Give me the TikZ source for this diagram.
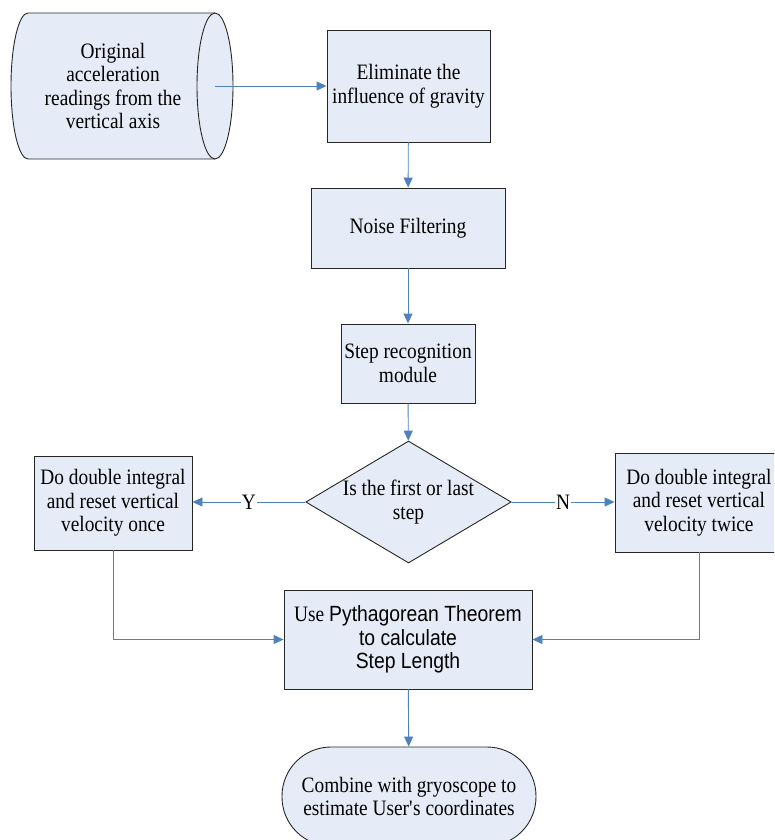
\documentclass[tikz,border=0pt]{standalone}
\usepackage{fontspec}
\setmainfont{Liberation Serif}[FakeStretch=0.88]
\setsansfont{Liberation Sans}[FakeStretch=0.88]
\usepackage{tikz}
\usetikzlibrary{arrows.meta,shapes.geometric}
\definecolor{fond}{RGB}{230,236,247}
\definecolor{bleu}{RGB}{79,129,189}
\tikzset{
Boite/.style={
 draw=black!85, 
 fill=fond, 
 line width=0.9pt, 
 align=center, 
 inner sep=0pt, 
 font=\fontsize{22}{23.5}\selectfont
 },
Losange/.style={
 Boite, 
 diamond, 
 shape aspect=1.7
 },
Terminal/.style={
 Boite, 
 rounded corners=49pt
 },
Fleche/.style={
 draw=bleu, 
 line width=0.9pt, 
 -{Triangle[length=10pt,width=9pt]}
 },
Lettre/.style={
 fill=white, 
 inner sep=1pt, 
 font=\fontsize{22}{23.5}\selectfont
 }
}

\begin{document}
\begin{tikzpicture}[x=1pt,y=-1pt]
\useasboundingbox (0,0) rectangle (774,840);
\clip (0,0) rectangle (774,840);
% stockage des donnees
\filldraw[fill=fond,draw=black!85,line width=0.9pt] (28,13) -- (215,13)
 arc[start angle=-90,end angle=90,x radius=18,y radius=73] -- (28,159)
 arc[start angle=90,end angle=270,x radius=17,y radius=73] -- cycle;
\draw[black!85,line width=0.9pt] (215,13) arc[start angle=-90,end angle=-270,x radius=18,y radius=73];
\node[Boite,draw=none,fill=none] (lecture) at (113,86) {Original\\acceleration\\readings from the\\vertical axis};
\coordinate (sortie) at (215,86);
% boites
\node[Boite,minimum width=163pt,minimum height=112pt] (gravite) at (408.5,86) {Eliminate the\\influence of gravity};
\node[Boite,minimum width=194pt,minimum height=80pt] (bruit) at (408,228) {Noise Filtering};
\node[Boite,minimum width=134pt,minimum height=79pt] (pas) at (408,363.5) {Step recognition\\module};
\node[Losange,minimum width=205pt,minimum height=122pt] (test) at (408.5,502) {Is the first or last\\step};
\node[Boite,minimum width=158pt,minimum height=94pt] (une) at (113,503) {Do double integral\\and reset vertical\\velocity once};
\node[Boite,minimum width=168pt,minimum height=99pt] (deux) at (699,502.5) {Do double integral\\and reset vertical\\velocity twice};
\node[Boite,minimum width=248pt,minimum height=99pt] (pyth) at (408,639.5) {Use {\sffamily Pythagorean Theorem}\\{\sffamily to calculate}\\{\sffamily Step Length}};
\node[Terminal,minimum width=254pt,minimum height=99pt] (fin) at (409,796.5) {Combine with gryoscope to\\estimate User\textquotesingle s coordinates};
% fleches
\draw[Fleche] (sortie) -- (gravite.west);
\draw[Fleche] (gravite) -- (bruit);
\draw[Fleche] (bruit) -- (pas);
\draw[Fleche] (pas) -- (test);
\draw[Fleche] (test.west) -- node[Lettre] {Y} (test.west -| une.east);
\draw[Fleche] (test.east) -- node[Lettre] {N} (test.east -| deux.west);
\draw[Fleche] (une.south) |- (pyth.west);
\draw[Fleche] (deux.south) |- (pyth.east);
\draw[Fleche] (pyth) -- (fin);
\end{tikzpicture}
\end{document}
